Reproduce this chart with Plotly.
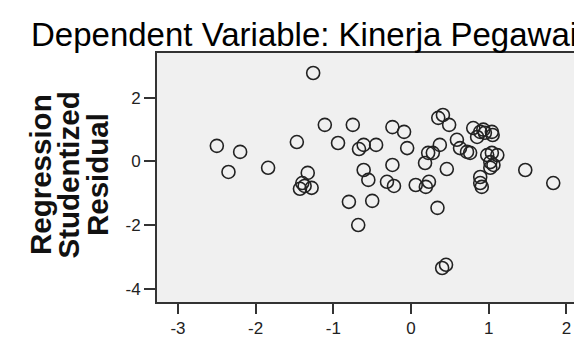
import plotly.graph_objects as go

# Standardized predicted value (x) vs studentized residual (y)
x_vals = [-2.50, -2.20, -2.35, -1.84, -1.47, -1.26, -1.11, -1.33, -1.40, -1.43,
          -1.37, -1.28, -0.80, -0.68, -0.50, -0.75, -0.94, -0.67, -0.61, -0.45,
          -0.61, -0.55, -0.24, -0.31, -0.22, -0.24, -0.09, -0.05, 0.06, 0.19,
          0.23, 0.34, 0.40, 0.45, 0.46, 0.18, 0.22, 0.28, 0.37, 0.35,
          0.41, 0.49, 0.59, 0.63, 0.72, 0.80, 0.89, 0.95, 1.04, 1.05,
          0.85, 0.93, 0.76, 0.98, 1.04, 1.11, 1.02, 1.06, 1.02, 0.89,
          0.89, 0.91, 1.47, 1.83]
y_vals = [0.49, 0.30, -0.33, -0.20, 0.61, 2.78, 1.15, -0.36, -0.68, -0.86,
          -0.77, -0.83, -1.27, -2.00, -1.24, 1.15, 0.58, 0.39, 0.52, 0.52,
          -0.27, -0.58, 1.08, -0.64, -0.77, -0.11, 0.93, 0.42, -0.74, -0.80,
          -0.64, -1.46, -3.35, -3.25, -0.24, -0.05, 0.27, 0.27, 0.52, 1.37,
          1.46, 1.15, 0.68, 0.42, 0.30, 1.05, 0.93, 0.90, 0.93, 0.83,
          0.77, 1.00, 0.27, 0.20, 0.27, 0.20, -0.02, -0.11, -0.20, -0.49,
          -0.68, -0.80, -0.27, -0.68]

x_ticks = [-3, -2, -1, 0, 1, 2]
y_ticks = [-4, -2, 0, 2]
title_text = "Dependent Variable: Kinerja Pegawai"
y_title_lines = ["Regression", "Studentized", "Residual"]

fig = go.Figure()
fig.add_trace(go.Scatter(
    x=x_vals, y=y_vals, mode="markers",
    marker=dict(symbol="circle-open", size=13, color="#222222",
                line=dict(width=1.6, color="#222222")),
    hoverinfo="skip", showlegend=False,
))

tick_font = dict(family="Liberation Sans, Arial, sans-serif", size=17, color="#222222")
fig.update_xaxes(range=[-3.27, 2.20], tickvals=x_ticks, ticktext=[str(v) for v in x_ticks],
                 showgrid=False, zeroline=False, showline=True, linecolor="#333333",
                 linewidth=2, ticks="outside", ticklen=10, tickwidth=2, tickcolor="#333333",
                 tickfont=tick_font, mirror=True, automargin=False)
fig.update_yaxes(range=[-4.42, 3.41], tickvals=y_ticks, ticktext=[str(v) for v in y_ticks],
                 showgrid=False, zeroline=False, showline=True, linecolor="#333333",
                 linewidth=2, ticks="outside", ticklen=11, tickwidth=2, tickcolor="#333333",
                 tickfont=tick_font, mirror=True, automargin=False)

annotations = [dict(text=title_text, xref="paper", yref="paper", x=0.346, y=1.0,
                    xanchor="center", yanchor="bottom", yshift=-2, showarrow=False,
                    font=dict(family="Liberation Sans, Arial, sans-serif", size=33, color="#000000"))]
for i, line in enumerate(y_title_lines):
    annotations.append(dict(text="<b>" + line + "</b>", xref="paper", yref="paper",
                            x=0, y=0.51, xanchor="center", yanchor="middle",
                            xshift=-117 + 28.5 * i, textangle=-90, showarrow=False,
                            font=dict(family="Liberation Sans, Arial, sans-serif", size=29.5,
                                      color="#111111")))

fig.update_layout(
    width=574, height=330,
    margin=dict(l=149, r=0, t=45, b=36, autoexpand=False),
    paper_bgcolor="white", plot_bgcolor="#f0f0f0",
    annotations=annotations,
)
fig.write_html("out.html")
